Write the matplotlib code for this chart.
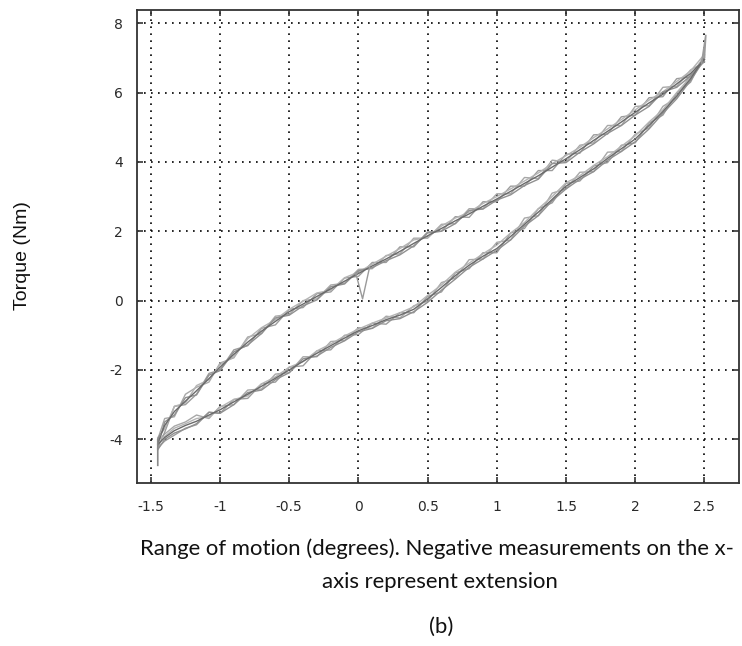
import matplotlib
matplotlib.use("Agg")
import matplotlib.pyplot as plt

plt.rcParams['axes.unicode_minus'] = False

# x positions read along the loop (degrees)
x_branch = [-1.45, -1.40, -1.33, -1.25, -1.17, -1.08, -1.00, -0.90, -0.80, -0.70,
            -0.60, -0.50, -0.40, -0.30, -0.20, -0.10, 0.00, 0.10, 0.20, 0.30,
            0.40, 0.50, 0.60, 0.70, 0.80, 0.90, 1.00, 1.10, 1.20, 1.30,
            1.40, 1.50, 1.60, 1.70, 1.80, 1.90, 2.00, 2.10, 2.20, 2.30,
            2.40, 2.50]

# upper branch, one list per recorded cycle (Nm)
upper_0 = [-4.10, -3.60, -3.20, -2.90, -2.60, -2.25, -1.92, -1.55, -1.20, -0.88,
           -0.60, -0.32, -0.10, 0.12, 0.34, 0.56, 0.78, 1.00, 1.20, 1.42,
           1.65, 1.87, 2.08, 2.30, 2.50, 2.72, 2.93, 3.15, 3.38, 3.60,
           3.85, 4.09, 4.35, 4.62, 4.88, 5.15, 5.43, 5.70, 5.95, 6.25,
           6.55, 6.95]
upper_1 = [-4.00, -3.40, -3.35, -2.70, -2.50, -2.35, -1.80, -1.65, -1.05, -0.95,
           -0.45, -0.40, 0.00, 0.05, 0.45, 0.50, 0.90, 0.92, 1.30, 1.35,
           1.80, 1.80, 2.20, 2.22, 2.65, 2.65, 3.08, 3.08, 3.55, 3.52,
           4.05, 4.00, 4.48, 4.55, 5.05, 5.05, 5.60, 5.62, 6.15, 6.18,
           6.65, 6.88]
upper_2 = [-4.25, -3.80, -3.05, -3.00, -2.70, -2.10, -2.00, -1.42, -1.30, -0.80,
           -0.70, -0.25, -0.20, 0.20, 0.25, 0.65, 0.70, 1.10, 1.10, 1.55,
           1.55, 1.98, 2.00, 2.42, 2.40, 2.85, 2.85, 3.30, 3.30, 3.75,
           3.75, 4.22, 4.25, 4.78, 4.80, 5.30, 5.35, 5.85, 5.88, 6.40,
           6.45, 7.05]
upper_3 = [-3.95, -3.70, -3.05, -2.95, -2.45, -2.28, -1.85, -1.62, -1.10, -0.78,
           -0.55, -0.25, -0.02, 0.22, 0.30, 0.66, 0.82, 1.05, 1.28, 1.50,
           1.75, 1.82, 2.15, 2.38, 2.55, 2.80, 3.00, 3.22, 3.45, 3.68,
           3.95, 4.18, 4.42, 4.70, 4.95, 5.22, 5.50, 5.78, 6.02, 6.32,
           6.62, 7.10]
upper_4 = [-4.18, -3.50, -3.30, -2.80, -2.72, -2.15, -2.02, -1.48, -1.28, -0.95,
           -0.50, -0.42, -0.15, 0.02, 0.40, 0.48, 0.86, 0.95, 1.15, 1.32,
           1.58, 1.95, 2.00, 2.22, 2.60, 2.64, 2.90, 3.05, 3.32, 3.50,
           3.95, 3.98, 4.28, 4.52, 4.82, 5.05, 5.35, 5.60, 6.02, 6.15,
           6.48, 6.90]

# lower branch
lower_0 = [-4.15, -3.95, -3.75, -3.60, -3.48, -3.30, -3.15, -2.92, -2.70, -2.47,
           -2.24, -2.00, -1.75, -1.52, -1.30, -1.08, -0.87, -0.72, -0.55, -0.42,
           -0.25, 0.05, 0.38, 0.72, 1.02, 1.28, 1.50, 1.85, 2.20, 2.55,
           2.92, 3.30, 3.55, 3.80, 4.10, 4.38, 4.66, 5.05, 5.45, 5.90,
           6.40, 7.00]
lower_1 = [-4.05, -3.85, -3.62, -3.50, -3.30, -3.40, -3.05, -3.00, -2.58, -2.55,
           -2.12, -2.08, -1.62, -1.62, -1.18, -1.15, -0.78, -0.80, -0.45, -0.50,
           -0.15, -0.02, 0.52, 0.65, 1.18, 1.20, 1.68, 1.75, 2.38, 2.45,
           3.10, 3.22, 3.70, 3.72, 4.28, 4.30, 4.80, 4.98, 5.60, 5.85,
           6.52, 6.95]
lower_2 = [-4.25, -4.05, -3.88, -3.68, -3.58, -3.22, -3.25, -2.85, -2.82, -2.40,
           -2.35, -1.92, -1.88, -1.45, -1.42, -1.00, -0.98, -0.65, -0.68, -0.35,
           -0.35, 0.12, 0.25, 0.80, 0.92, 1.38, 1.38, 1.95, 2.08, 2.65,
           2.82, 3.38, 3.45, 3.88, 3.98, 4.48, 4.55, 5.12, 5.35, 5.98,
           6.30, 7.08]
lower_3 = [-4.00, -3.92, -3.68, -3.55, -3.40, -3.35, -3.08, -2.85, -2.75, -2.40,
           -2.20, -1.92, -1.76, -1.45, -1.25, -1.02, -0.82, -0.65, -0.50, -0.35,
           -0.18, 0.15, 0.45, 0.82, 1.08, 1.35, 1.60, 1.95, 2.25, 2.65,
           3.00, 3.40, 3.60, 3.90, 4.15, 4.45, 4.75, 5.15, 5.50, 6.00,
           6.45, 7.05]
lower_4 = [-4.30, -4.00, -3.82, -3.70, -3.55, -3.22, -3.25, -3.00, -2.65, -2.58,
           -2.28, -2.08, -1.68, -1.60, -1.35, -1.16, -0.90, -0.80, -0.58, -0.52,
           -0.32, -0.05, 0.30, 0.62, 0.96, 1.20, 1.45, 1.75, 2.15, 2.45,
           2.88, 3.22, 3.50, 3.72, 4.05, 4.30, 4.58, 4.95, 5.40, 5.82,
           6.35, 6.95]

# short excursions seen in the traces
start_x = [-1.45, -1.45, -1.43]
start_y = [-4.75, -4.00, -3.85]
blip_x = [-0.02, 0.03, 0.08]
blip_y = [0.80, 0.05, 0.95]
end_x = [2.48, 2.51, 2.50]
end_y = [6.85, 7.65, 7.00]

uppers = [upper_1, upper_2, upper_3, upper_4, upper_0]
lowers = [lower_1, lower_2, lower_3, lower_4, lower_0]
colors = ['#a8a8a8', '#9c9c9c', '#b4b4b4', '#909090', '#6a6a6a']

fig = plt.figure(figsize=(7.42, 6.46), dpi=100)
ax = fig.add_axes([137 / 742, 1 - 483 / 646, (739 - 137) / 742, (483 - 10) / 646])

for up, lo, c in zip(uppers, lowers, colors):
    ax.plot(x_branch, up, color=c, lw=1.0, zorder=3)
    ax.plot(x_branch, lo, color=c, lw=1.0, zorder=3)
ax.plot(start_x, start_y, color='#8a8a8a', lw=1.2, zorder=3)
ax.plot(blip_x, blip_y, color='#9a9a9a', lw=1.0, zorder=3)
ax.plot(end_x, end_y, color='#9a9a9a', lw=1.2, zorder=3)

ax.set_xlim(-1.6, 2.75)
ax.set_ylim(-5.26, 8.38)
ax.set_xticks([-1.5, -1, -0.5, 0, 0.5, 1, 1.5, 2, 2.5])
ax.set_xticklabels(['-1.5', '-1', '-0.5', '0', '0.5', '1', '1.5', '2', '2.5'])
ax.set_yticks([-4, -2, 0, 2, 4, 6, 8])

ax.grid(True, color='black', linestyle=(0, (1, 3.2)), linewidth=1.2, zorder=1)
for s in ax.spines.values():
    s.set_color('#333333')
    s.set_linewidth(1.3)
ax.tick_params(direction='in', length=4, width=1.2, color='#333333',
               top=True, right=True, labelcolor='#2a2a2a', labelsize=10)
ax.tick_params(axis='x', pad=12)
ax.tick_params(axis='y', pad=10)
for lab in ax.get_xticklabels() + ax.get_yticklabels():
    lab.set_family('DejaVu Sans')

fig.text(23 / 742, 1 - 256 / 646, 'Torque (Nm)', rotation=90, ha='center', va='center',
         fontsize=14, family='Liberation Sans', color='#111111')

cap_font = dict(family='Lato', fontsize=15.9, color='#111111', ha='center', va='baseline')
fig.text(437 / 742, 1 - 555 / 646,
         'Range of motion (degrees). Negative measurements on the x-', **cap_font)
fig.text(440 / 742, 1 - 588 / 646, 'axis represent extension', **cap_font)
fig.text(441 / 742, 1 - 633 / 646, '(b)', **cap_font)

fig.savefig('out.png', dpi=100)
